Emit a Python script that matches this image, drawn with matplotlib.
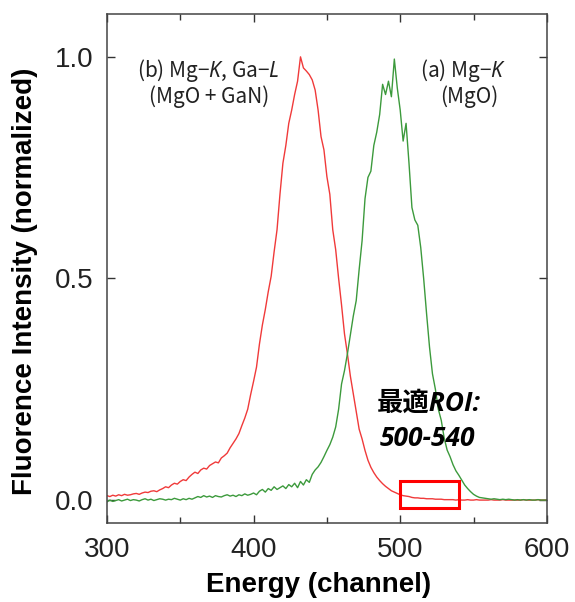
import numpy as np
import matplotlib
matplotlib.use("Agg")
import matplotlib.pyplot as plt
from matplotlib.patches import Rectangle

plt.rcParams["font.family"] = ["Liberation Sans", "Noto Sans CJK JP", "DejaVu Sans"]
plt.rcParams["mathtext.fontset"] = "custom"
plt.rcParams["mathtext.it"] = "Noto Sans:italic"
plt.rcParams["mathtext.rm"] = "Noto Sans CJK JP"

# Energy channels (2-channel bins)
channels = np.arange(300, 601, 2)

# (b) Mg-K + Ga-L spectrum, MgO + GaN
intensity_b = [
    0.010, 0.008, 0.011, 0.009, 0.012, 0.010, 0.013, 0.011, 0.012, 0.014,
    0.015, 0.013, 0.016, 0.018, 0.017, 0.020, 0.021, 0.019, 0.023, 0.026,
    0.030, 0.028, 0.034, 0.038, 0.036, 0.042, 0.046, 0.044, 0.052, 0.058,
    0.063, 0.060, 0.068, 0.072, 0.070, 0.078, 0.082, 0.086, 0.084, 0.095,
    0.100, 0.106, 0.118, 0.128, 0.138, 0.150, 0.168, 0.185, 0.205, 0.238,
    0.268, 0.300, 0.352, 0.395, 0.430, 0.470, 0.505, 0.560, 0.610, 0.690,
    0.760, 0.800, 0.850, 0.880, 0.915, 0.945, 1.000, 0.975, 0.968, 0.960,
    0.948, 0.925, 0.880, 0.820, 0.790, 0.730, 0.690, 0.610, 0.565, 0.500,
    0.440, 0.375, 0.330, 0.280, 0.240, 0.200, 0.160, 0.138, 0.112, 0.090,
    0.074, 0.062, 0.052, 0.044, 0.037, 0.031, 0.026, 0.021, 0.018, 0.015,
    0.012, 0.010, 0.009, 0.008, 0.006, 0.005, 0.005, 0.004, 0.004, 0.003,
    0.003, 0.003, 0.002, 0.002, 0.002, 0.001, 0.001, 0.001, 0.001, 0.000,
    0.001, 0.000, 0.000, 0.001, 0.000, 0.000, 0.001, 0.000, 0.000, 0.000,
    0.000, 0.001, 0.000, 0.000, 0.000, 0.001, 0.000, 0.000, 0.000, 0.000,
    0.000, 0.000, 0.001, 0.000, 0.000, 0.000, 0.000, 0.001, 0.000, 0.000,
    0.000,
]

# (a) Mg-K spectrum, MgO
intensity_a = [
    -0.004, 0.000, -0.003, -0.001, 0.001, -0.002, 0.000, 0.002, -0.001, 0.001,
    0.000, -0.002, 0.001, 0.003, 0.000, 0.002, -0.001, 0.001, 0.003, 0.002,
    0.000, 0.002, 0.001, 0.004, 0.002, 0.000, 0.003, 0.001, 0.004, 0.002,
    0.005, 0.008, 0.006, 0.010, 0.007, 0.009, 0.006, 0.010, 0.008, 0.007,
    0.010, 0.012, 0.009, 0.011, 0.008, 0.012, 0.010, 0.014, 0.011, 0.013,
    0.016, 0.012, 0.020, 0.024, 0.018, 0.026, 0.022, 0.030, 0.024, 0.028,
    0.032, 0.026, 0.035, 0.030, 0.038, 0.028, 0.042, 0.034, 0.046, 0.040,
    0.058, 0.068, 0.075, 0.085, 0.098, 0.112, 0.125, 0.142, 0.165, 0.205,
    0.262, 0.292, 0.330, 0.372, 0.415, 0.450, 0.520, 0.585, 0.680, 0.728,
    0.742, 0.800, 0.830, 0.870, 0.938, 0.915, 0.945, 0.910, 0.995, 0.930,
    0.880, 0.810, 0.850, 0.760, 0.660, 0.632, 0.620, 0.570, 0.500, 0.420,
    0.345, 0.285, 0.250, 0.205, 0.180, 0.140, 0.113, 0.098, 0.080, 0.066,
    0.056, 0.045, 0.034, 0.026, 0.019, 0.013, 0.009, 0.006, 0.005, 0.004,
    0.003, 0.002, 0.003, 0.002, 0.001, 0.002, 0.001, 0.002, 0.001, 0.000,
    0.001, 0.000, 0.001, 0.000, 0.001, 0.000, 0.000, 0.001, 0.000, 0.000,
    0.000,
]

# Optimal region of interest (channels)
roi_start, roi_end = 500, 540

x_ticks = [300, 400, 500, 600]
y_ticks = [0.0, 0.5, 1.0]
y_tick_labels = ["0.0", "0.5", "1.0"]

fig = plt.figure(figsize=(5.75, 6.02), dpi=100)
ax = fig.add_axes([0.186, 0.131, 0.765, 0.846])

ax.plot(channels, intensity_b, color="#f03a3a", lw=1.0)
ax.plot(channels, intensity_a, color="#3c9a3c", lw=1.0)

ax.add_patch(Rectangle((roi_start, -0.017), roi_end - roi_start, 0.060,
                       fill=False, edgecolor="#ff0000", lw=2.2, zorder=5))

ax.set_xlim(300, 600)
ax.set_ylim(-0.052, 1.097)
ax.set_xticks(x_ticks)
ax.set_xticks([350, 450, 550], minor=True)
ax.set_yticks(y_ticks)
ax.set_yticklabels(y_tick_labels)

ax.tick_params(which="both", direction="in", top=True, right=True,
               color="#333333", width=1.0)
ax.tick_params(which="major", length=6, labelsize=20, labelcolor="#222222", pad=10)
ax.tick_params(which="minor", length=4)
for s in ax.spines.values():
    s.set_color("#444444")
    s.set_linewidth(1.1)

ax.set_xlabel("Energy (channel)", fontsize=20, fontweight="bold")
ax.xaxis.set_label_coords(0.48, -0.095)
ax.set_ylabel("Fluorence Intensity (normalized)", fontsize=20, fontweight="bold")
ax.yaxis.set_label_coords(-0.157, 0.475)

tfont = dict(family=["Noto Sans CJK JP", "DejaVu Sans"], fontsize=15, color="#222222",
             ha="center", va="center")
ax.text(369, 0.97, r"(b) Mg$-\mathit{K}$, Ga$-\mathit{L}$", **tfont)
ax.text(370, 0.91, "(MgO + GaN)", **tfont)
ax.text(543, 0.97, r"(a) Mg$-\mathit{K}$", **tfont)
ax.text(547, 0.91, "(MgO)", **tfont)

rfont = dict(family=["Open Sans", "Noto Sans CJK JP"], fontsize=19, fontweight="bold",
             style="italic", color="black", ha="left", va="center")
ax.text(484, 0.219, "最適ROI:", **rfont)
ax.text(486, 0.140, "500-540", **rfont)

fig.savefig("out.png", dpi=100)
